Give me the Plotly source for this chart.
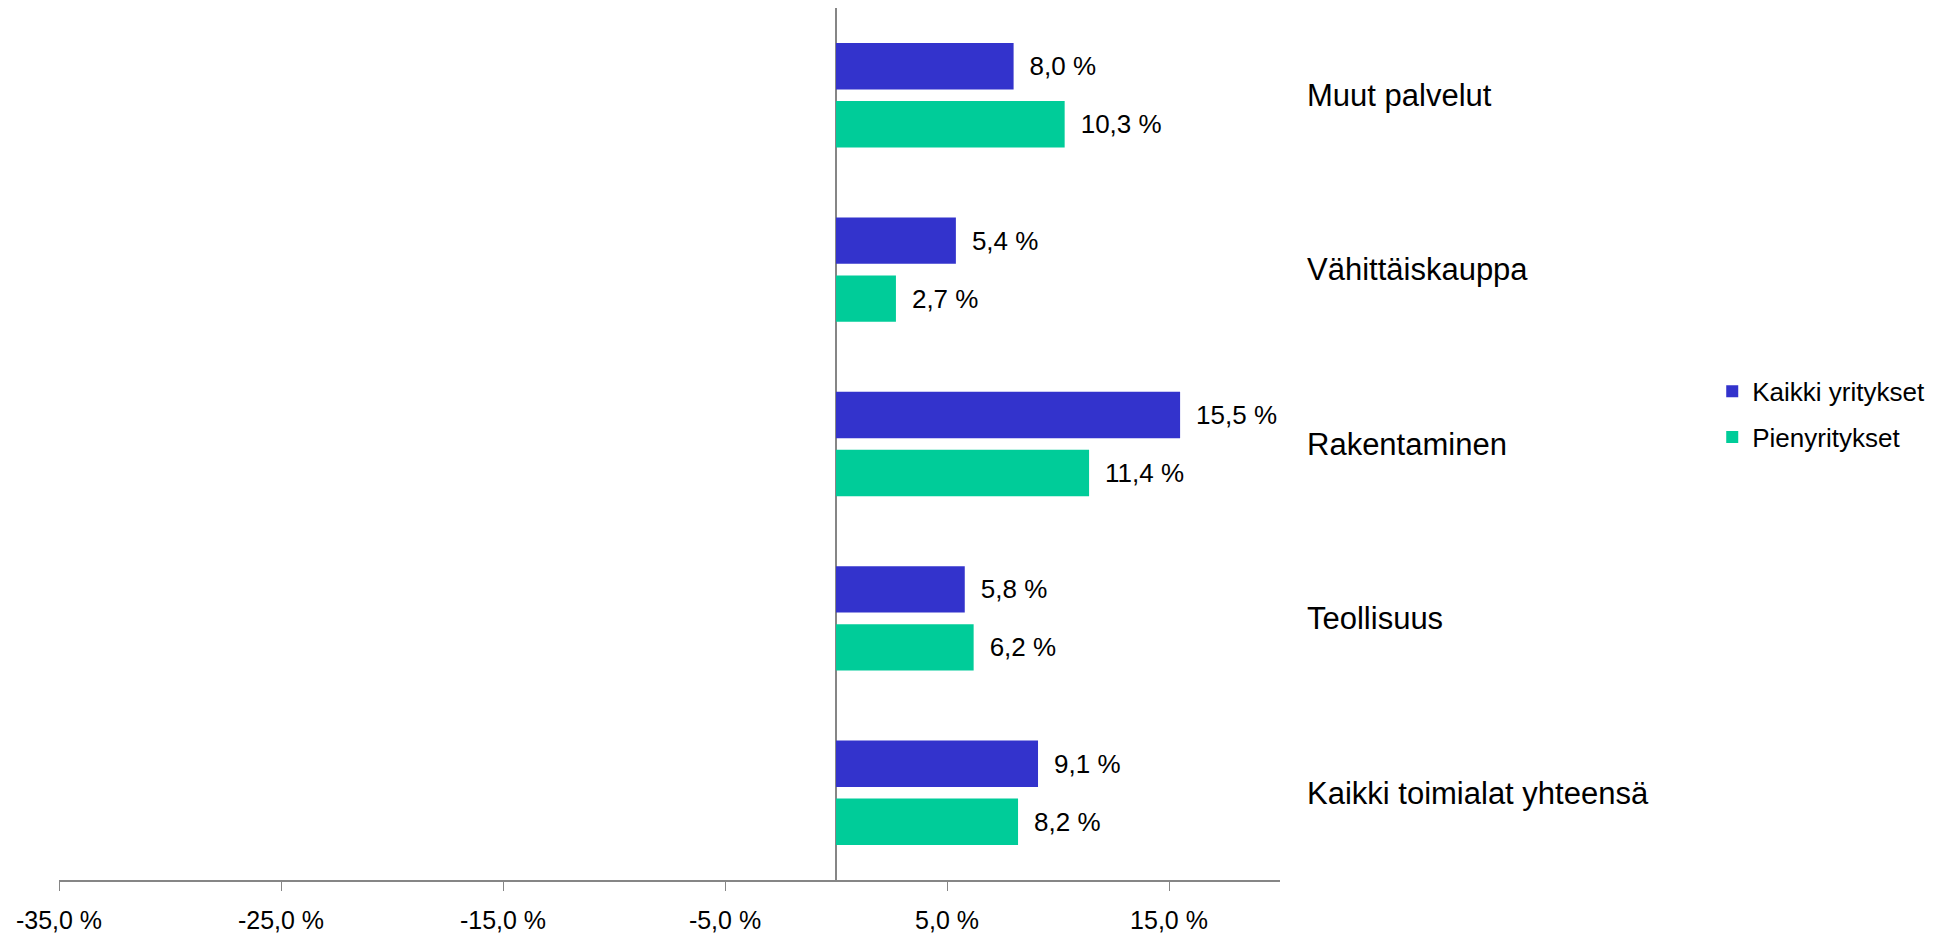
import plotly.graph_objects as go

# Toimialat (alhaalta ylös)
toimialat = ['Kaikki toimialat yhteensä', 'Teollisuus', 'Rakentaminen',
             'Vähittäiskauppa', 'Muut palvelut']

# Osuudet prosentteina
kaikki_yritykset = [9.1, 5.8, 15.5, 5.4, 8.0]
pienyritykset = [8.2, 6.2, 11.4, 2.7, 10.3]

x_ticks = [-35, -25, -15, -5, 5, 15]
x_ticktext = [f'{v:.1f}'.replace('.', ',') + ' %' for v in x_ticks]

sininen = '#3333CC'
vihrea = '#00CC99'
harmaa = '#868686'
fontti = 'Arial, Liberation Sans, sans-serif'

fig = go.Figure()

# Pienyritykset ensin, jotta se piirtyy ryhmässä alemmaksi
fig.add_trace(go.Bar(
    y=toimialat,
    x=pienyritykset,
    orientation='h',
    name='Pienyritykset',
    legendgroup='p',
    legendrank=2,
    marker=dict(color=vihrea, line=dict(width=0)),
    texttemplate='\u2002%{x:.1f} %',
    textposition='outside',
    textfont=dict(size=26, color='black', family=fontti),
    cliponaxis=False,
))

fig.add_trace(go.Bar(
    y=toimialat,
    x=kaikki_yritykset,
    orientation='h',
    name='Kaikki yritykset',
    legendgroup='k',
    legendrank=1,
    marker=dict(color=sininen, line=dict(width=0)),
    texttemplate='\u2002%{x:.1f} %',
    textposition='outside',
    textfont=dict(size=26, color='black', family=fontti),
    cliponaxis=False,
))

fig.update_layout(
    width=1948,
    height=936,
    margin=dict(l=51, r=676, t=0, b=64),
    paper_bgcolor='white',
    plot_bgcolor='white',
    separators=', ',
    barmode='group',
    bargap=0.335,
    bargroupgap=0.2,
    font=dict(family=fontti, color='black'),
    legend=dict(
        x=1.354,
        y=0.534,
        xanchor='left',
        yanchor='middle',
        traceorder='grouped',
        tracegroupgap=9,
        font=dict(size=26, color='black'),
        bgcolor='rgba(0,0,0,0)',
    ),
    xaxis=dict(
        range=[-35, 20],
        tickvals=x_ticks,
        ticktext=x_ticktext,
        ticks='outside',
        ticklen=9,
        tickcolor=harmaa,
        tickwidth=1,
        ticklabelstandoff=8,
        tickfont=dict(size=25, color='black'),
        showline=True,
        linecolor=harmaa,
        linewidth=2,
        showgrid=False,
        zeroline=True,
        zerolinecolor=harmaa,
        zerolinewidth=2,
    ),
    yaxis=dict(
        side='right',
        showline=False,
        showgrid=False,
        zeroline=False,
        ticks='',
        ticklabelstandoff=26,
        tickfont=dict(size=31, color='black'),
    ),
)

fig.write_html('out.html')
